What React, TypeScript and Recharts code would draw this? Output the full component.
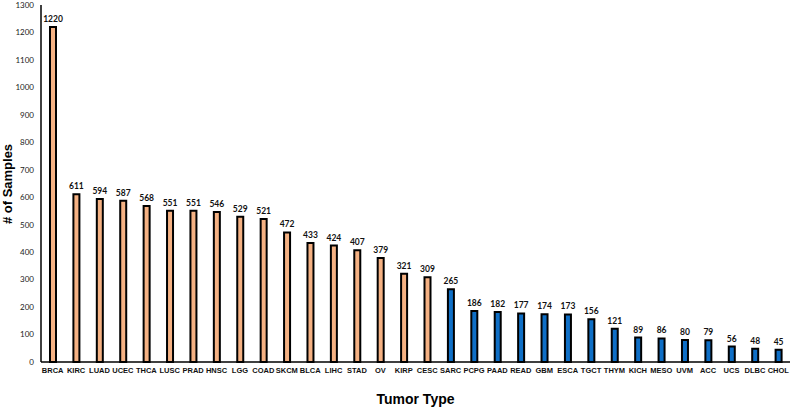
import { BarChart, Bar, XAxis, YAxis, Cell, LabelList, Label } from 'recharts';

const tumorTypes = ['BRCA', 'KIRC', 'LUAD', 'UCEC', 'THCA', 'LUSC', 'PRAD', 'HNSC', 'LGG', 'COAD', 'SKCM', 'BLCA', 'LIHC', 'STAD', 'OV', 'KIRP', 'CESC', 'SARC', 'PCPG', 'PAAD', 'READ', 'GBM', 'ESCA', 'TGCT', 'THYM', 'KICH', 'MESO', 'UVM', 'ACC', 'UCS', 'DLBC', 'CHOL'];
const sampleCounts = [1220, 611, 594, 587, 568, 551, 551, 546, 529, 521, 472, 433, 424, 407, 379, 321, 309, 265, 186, 182, 177, 174, 173, 156, 121, 89, 86, 80, 79, 56, 48, 45];
// first 17 tumor types are drawn orange, the rest blue
const orangeCount = 17;
const yTicks = [0, 100, 200, 300, 400, 500, 600, 700, 800, 900, 1000, 1100, 1200, 1300];

const data = tumorTypes.map((t, i) => ({ type: t, n: sampleCounts[i] }));

const ORANGE = '#F4B183';
const BLUE = '#0F6FC6';

export default function App() {
  return (
    <div style={{ position: 'absolute', left: 0, top: 0, width: 793, height: 411, background: '#fff' }}>
      <BarChart width={793} height={411} data={data} margin={{ top: 5, right: 3, left: 5, bottom: 0 }}>
        <YAxis
          width={36} domain={[0, 1300]} ticks={yTicks} interval={0}
          tickLine={false} tickSize={0} tickMargin={7}
          axisLine={{ stroke: '#000', strokeWidth: 1.5 }}
          tick={{ fontSize: 8, fill: '#222', fontFamily: 'Lato' }}
        />
        <XAxis
          dataKey="type" height={49} interval={0}
          tickLine={false} tickSize={0} tickMargin={6}
          axisLine={{ stroke: '#000', strokeWidth: 1.5 }}
          tick={{ fontSize: 7.5, fill: '#111', fontFamily: 'Liberation Sans, Arial', fontWeight: 700 }}
        >
          <Label value="Tumor Type" position="insideBottom" offset={7}
            style={{ fontFamily: 'Liberation Sans, Arial', fontWeight: 700, fontSize: 14, fill: '#000' }} />
        </XAxis>
        <Bar dataKey="n" barSize={6} stroke="#000" strokeWidth={2} isAnimationActive={false}>
          {data.map((d, i) => <Cell key={d.type} fill={i < orangeCount ? ORANGE : BLUE} />)}
          <LabelList dataKey="n" position="top" offset={5}
            style={{ fontSize: 8.5, fontWeight: 700, fill: '#111', fontFamily: 'Lato' }} />
        </Bar>
      </BarChart>
      {/* y-axis title drawn on its own so it sits left of the tick labels */}
      <svg width={20} height={411} style={{ position: 'absolute', left: 0, top: 0 }}>
        <text x={12} y={184} transform="rotate(-90 12 184)" textAnchor="middle"
          style={{ fontFamily: 'Liberation Sans, Arial', fontWeight: 700, fontSize: 13, fill: '#000' }}>
          # of Samples
        </text>
      </svg>
    </div>
  );
}
